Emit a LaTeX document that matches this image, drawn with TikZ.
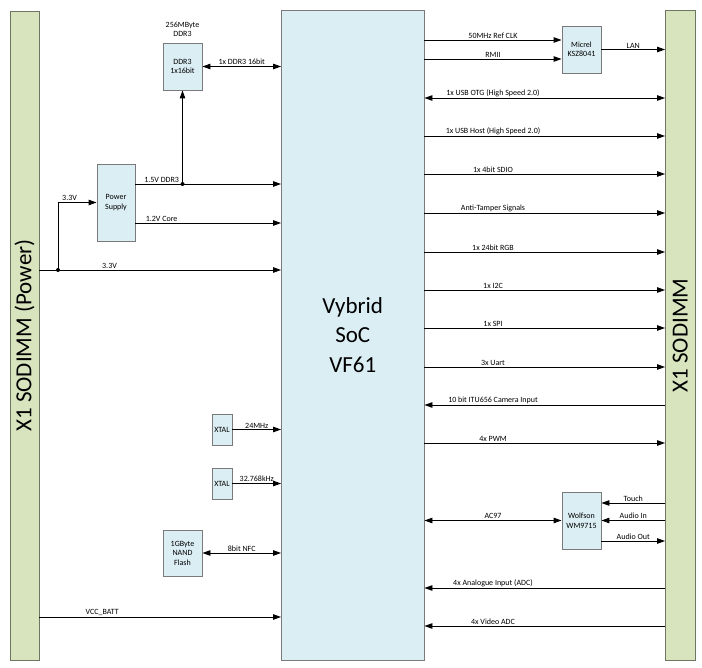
\documentclass[tikz,border=0pt]{standalone}
\usepackage{fontspec}
\setmainfont{Carlito}
\usepackage{xcolor}
\usetikzlibrary{positioning,arrows.meta}
\definecolor{socblue}{HTML}{DBEEF4}
\definecolor{sodgreen}{HTML}{D7E4BD}
\definecolor{sodline}{HTML}{6E7560}
\definecolor{boxline}{HTML}{7A7A7A}
\tikzset{
  blk/.style={draw=boxline, fill=socblue, line width=0.9pt, align=center, inner sep=0pt},
  bar/.style={draw=sodline, fill=sodgreen, line width=0.9pt, inner sep=0pt},
  big/.style={font=\fontsize{23}{29.5}\selectfont, align=center},
  lbl/.style={above, inner sep=1pt},
  lblr/.style={above, inner sep=1pt, pos=0.285},
  bus/.style={line width=0.9pt},
}

\begin{document}
\begin{tikzpicture}[x=1pt, y=-1pt, >={Triangle[length=8pt,width=5.5pt]}, every node/.style={font=\fontsize{8}{9.5}\selectfont}]
\useasboundingbox (0,0) rectangle (702,668);
% blocks
\node[bar, minimum width=29pt, minimum height=649pt] (pwr) at (24.5,335.5) {};
\node[big, rotate=90] (pwrtxt) at (pwr) {X1 SODIMM (Power)};
\node[bar, minimum width=29.5pt, minimum height=650pt] (sod) at (680.25,335.5) {};
\node[big, rotate=90] (sodtxt) at (sod) {X1 SODIMM};
\node[blk, minimum width=142.5pt, minimum height=650pt] (soc) at (352.75,335.5) {};
\node[big] (soctxt) at (352.75,335) {Vybrid\\SoC\\VF61};
\node[blk, minimum width=39pt, minimum height=47pt] (ddr) at (182.5,66.5) {DDR3\\1x16bit};
\node[above=2pt of ddr, align=center] (ddrcap) {256MByte\\DDR3};
\node[blk, minimum width=38pt, minimum height=77pt] (ps) at (116,202.5) {Power\\Supply};
\node[blk, minimum width=39pt, minimum height=47pt] (micrel) at (581.5,49.5) {Micrel\\KSZ8041};
\node[blk, minimum width=39pt, minimum height=57pt] (wolfson) at (581.5,520.5) {Wolfson\\WM9715};
\node[blk, minimum width=20pt, minimum height=31pt] (xtal1) at (222,429.5) {XTAL};
\node[blk, minimum width=20pt, minimum height=31pt] (xtal2) at (222,483.5) {XTAL};
\node[blk, minimum width=39pt, minimum height=46pt] (nand) at (182.5,553) {1GByte\\NAND\\Flash};

% power side
\coordinate (tap15) at (ddr.south |- 0,184);
\coordinate (tap33) at (58,270);
\draw[bus, <->] (ddr.east) -- node[lbl] {1x DDR3 16bit} (soc.west |- ddr.east);
\draw[bus, ->] (ps.east |- tap15) -- node[lbl, pos=0.18] {1.5V DDR3} (soc.west |- tap15);
\draw[bus, ->] (tap15) -- (ddr.south);
\fill (tap15) circle (2pt);
\draw[bus, ->] (ps.east |- 0,223) -- node[lbl, pos=0.18] {1.2V Core} (soc.west |- 0,223);
\draw[bus, ->] (pwr.east |- tap33) -- node[lbl, pos=0.29] {3.3V} (soc.west |- tap33);
\draw[bus, ->] (tap33) |- node[lbl, pos=0.65] {3.3V} (ps.west);
\fill (tap33) circle (2pt);
\draw[bus, ->] (xtal1.east) -- node[lbl] {24MHz} (soc.west |- xtal1.east);
\draw[bus, ->] (xtal2.east) -- node[lbl] {32.768kHz} (soc.west |- xtal2.east);
\draw[bus, <->] (nand.east) -- node[lbl] {8bit NFC} (soc.west |- nand.east);
\draw[bus, ->] (pwr.east |- 0,617) -- node[lbl, pos=0.26] {VCC\_BATT} (soc.west |- 0,617);

% interface side
\draw[bus, ->] (soc.east |- 0,40) -- node[lbl] {50MHz Ref CLK} (micrel.west |- 0,40);
\draw[bus, ->] (soc.east |- 0,59) -- node[lbl] {RMII} (micrel.west |- 0,59);
\draw[bus, ->] (micrel.east) -- node[lbl] {LAN} (sod.west |- micrel.east);
\draw[bus, <->] (soc.east |- 0,98) -- node[lblr] {1x USB OTG (High Speed 2.0)} (sod.west |- 0,98);
\draw[bus, ->] (soc.east |- 0,136) -- node[lblr] {1x USB Host (High Speed 2.0)} (sod.west |- 0,136);
\draw[bus, ->] (soc.east |- 0,174) -- node[lblr] {1x 4bit SDIO} (sod.west |- 0,174);
\draw[bus, ->] (soc.east |- 0,213) -- node[lblr] {Anti-Tamper Signals} (sod.west |- 0,213);
\draw[bus, ->] (soc.east |- 0,252) -- node[lblr] {1x 24bit RGB} (sod.west |- 0,252);
\draw[bus, ->] (soc.east |- 0,290) -- node[lblr] {1x I2C} (sod.west |- 0,290);
\draw[bus, ->] (soc.east |- 0,328) -- node[lblr] {1x SPI} (sod.west |- 0,328);
\draw[bus, ->] (soc.east |- 0,367) -- node[lblr] {3x Uart} (sod.west |- 0,367);
\draw[bus, <-] (soc.east |- 0,405) -- node[lblr] {10 bit ITU656 Camera Input} (sod.west |- 0,405);
\draw[bus, ->] (soc.east |- 0,443) -- node[lblr] {4x PWM} (sod.west |- 0,443);
\draw[bus, <->] (soc.east |- wolfson.west) -- node[lbl] {AC97} (wolfson.west);
\draw[bus, <-] (wolfson.east |- 0,503) -- node[lbl] {Touch} (sod.west |- 0,503);
\draw[bus, <-] (wolfson.east) -- node[lbl] {Audio In} (sod.west |- wolfson.east);
\draw[bus, ->] (wolfson.east |- 0,541) -- node[lbl] {Audio Out} (sod.west |- 0,541);
\draw[bus, <-] (soc.east |- 0,588) -- node[lblr] {4x Analogue Input (ADC)} (sod.west |- 0,588);
\draw[bus, <-] (soc.east |- 0,626) -- node[lblr] {4x Video ADC} (sod.west |- 0,626);
\end{tikzpicture}
\end{document}
